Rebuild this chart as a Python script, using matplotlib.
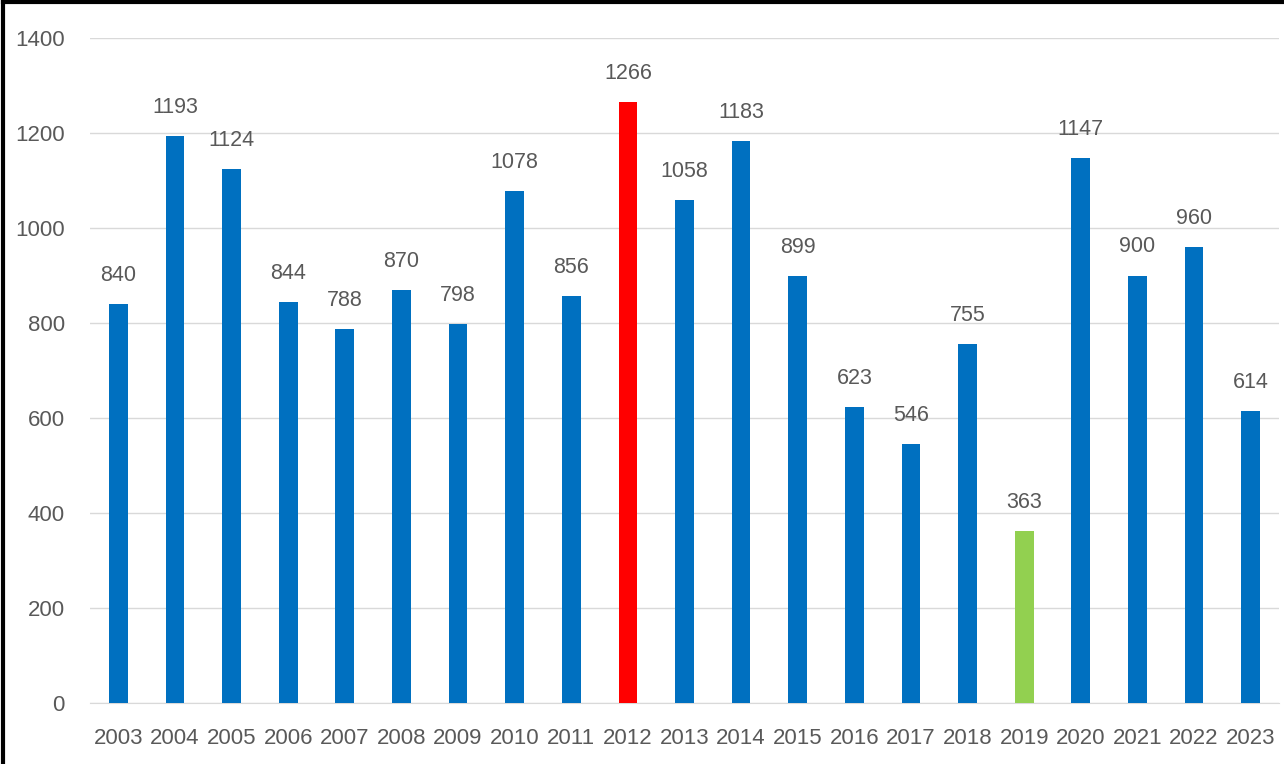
import matplotlib.pyplot as plt
import numpy as np

# data
years = [str(y) for y in range(2003, 2024)]
values = [840, 1193, 1124, 844, 788, 870, 798, 1078, 856, 1266, 1058,
          1183, 899, 623, 546, 755, 363, 1147, 900, 960, 614]
highlight = {"2012": "#FF0000", "2019": "#92D050"}
base_color = "#0070C0"
yticks = [0, 200, 400, 600, 800, 1000, 1200, 1400]

plt.rcParams["font.family"] = ["Liberation Sans", "DejaVu Sans"]
txt_color = "#595959"

fig = plt.figure(figsize=(12.84, 7.64), dpi=100)
ax = fig.add_axes([90 / 1284, 1 - 703 / 764, 1189 / 1284, 665 / 764])

x = np.arange(len(years))
colors = [highlight.get(y, base_color) for y in years]
ax.bar(x, values, width=0.33, color=colors, zorder=3)

for xi, v in zip(x, values):
    ax.annotate(str(v), (xi, v), xytext=(0, 13), textcoords="offset points",
                ha="center", va="bottom", fontsize=15.5, color=txt_color)

ax.set_xlim(-0.5, len(years) - 0.5)
ax.set_ylim(0, 1400)
ax.set_yticks(yticks)
ax.set_xticks(x)
ax.set_xticklabels(years)
ax.grid(axis="y", color="#D9D9D9", linewidth=1, zorder=0)
for s in ["top", "right", "left"]:
    ax.spines[s].set_visible(False)
ax.spines["bottom"].set_color("#D9D9D9")
ax.tick_params(axis="both", length=0, labelsize=16, colors=txt_color)
ax.tick_params(axis="y", pad=18)
ax.tick_params(axis="x", pad=18)

# black frame around the figure
fig.add_artist(plt.Line2D([0.002, 0.002], [0, 0.997], color="black", linewidth=3,
                          transform=fig.transFigure))
fig.add_artist(plt.Line2D([0.002, 1], [0.997, 0.997], color="black", linewidth=3,
                          transform=fig.transFigure))

fig.savefig("out.png", dpi=100)
